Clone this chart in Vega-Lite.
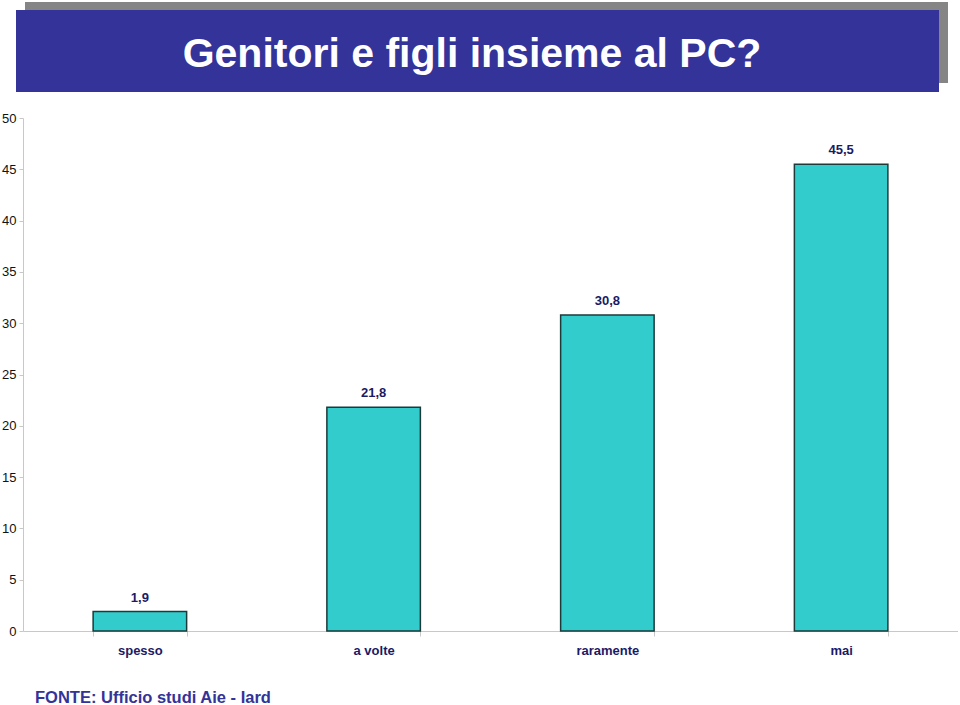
{
  "$schema": "https://vega.github.io/schema/vega-lite/v6.json",
  "padding": {"left": 1, "top": 2, "right": 0, "bottom": 0},
  "background": "white",
  "bounds": "flush",
  "spacing": 26,
  "config": {
    "view": {"stroke": null},
    "font": "Liberation Sans",
    "locale": {"number": {"decimal": ",", "thousands": ".", "grouping": [3], "currency": ["", " €"]}}
  },
  "vconcat": [
    {
      "width": 932,
      "height": 90,
      "data": {"values": [{"title": "Genitori e figli insieme al PC?"}]},
      "layer": [
        {
          "mark": {"type": "rect", "color": "#858585"},
          "encoding": {
            "x": {"datum": 9, "type": "quantitative", "scale": {"domain": [0, 932], "range": [0, 932], "nice": false, "zero": false}, "axis": null},
            "x2": {"datum": 932},
            "y": {"datum": 0, "type": "quantitative", "scale": {"domain": [0, 90], "range": [0, 90], "nice": false, "zero": false}, "axis": null},
            "y2": {"datum": 81}
          }
        },
        {
          "mark": {"type": "rect", "color": "#333399"},
          "encoding": {
            "x": {"datum": 0, "type": "quantitative"},
            "x2": {"datum": 923},
            "y": {"datum": 8, "type": "quantitative"},
            "y2": {"datum": 90}
          }
        },
        {
          "mark": {"type": "text", "color": "white", "fontSize": 41, "fontWeight": "bold", "align": "center", "baseline": "alphabetic"},
          "encoding": {
            "x": {"datum": 456, "type": "quantitative"},
            "y": {"datum": 65, "type": "quantitative"},
            "text": {"field": "title"}
          }
        }
      ]
    },
    {
      "width": 942,
      "height": 513,
      "title": {
        "text": "FONTE: Ufficio studi Aie - Iard",
        "orient": "bottom",
        "anchor": "start",
        "frame": "group",
        "offset": 46,
        "dx": 19,
        "baseline": "alphabetic",
        "fontSize": 16.5,
        "fontWeight": "bold",
        "color": "#333399",
        "font": "Liberation Sans"
      },
      "data": {"values": [
        {"categoria": "spesso", "valore": 1.9},
        {"categoria": "a volte", "valore": 21.8},
        {"categoria": "raramente", "valore": 30.8},
        {"categoria": "mai", "valore": 45.5}
      ]},
      "encoding": {
        "x": {
          "field": "categoria", "type": "nominal", "sort": null,
          "scale": {"range": [7, 942], "paddingInner": 0.6, "paddingOuter": 0.3},
          "axis": {
            "title": null, "labelAngle": 0, "domainColor": "#c8c8c8", "tickColor": "#c8c8c8",
            "tickSize": 5, "tickBand": "extent", "labelFontSize": 13, "labelFontWeight": "bold",
            "labelColor": "#1a1a66", "labelPadding": 8
          }
        },
        "y": {
          "field": "valore", "type": "quantitative",
          "scale": {"domain": [0, 50], "nice": false},
          "axis": {
            "title": null, "values": [0, 5, 10, 15, 20, 25, 30, 35, 40, 45, 50], "grid": false,
            "offset": -7, "domainColor": "#c8c8c8", "tickColor": "#c8c8c8", "tickSize": 4,
            "labelFontSize": 13, "labelColor": "#111111", "labelPadding": 3, "format": "d"
          }
        }
      },
      "layer": [
        {"mark": {"type": "bar", "fill": "#33CCCC", "stroke": "#1c3a3a", "strokeWidth": 1.5}},
        {
          "mark": {"type": "text", "dy": -10, "baseline": "alphabetic", "fontSize": 13, "fontWeight": "bold", "color": "#1a1a66"},
          "encoding": {"text": {"field": "valore", "type": "quantitative", "format": ".1f"}}
        }
      ]
    }
  ]
}
